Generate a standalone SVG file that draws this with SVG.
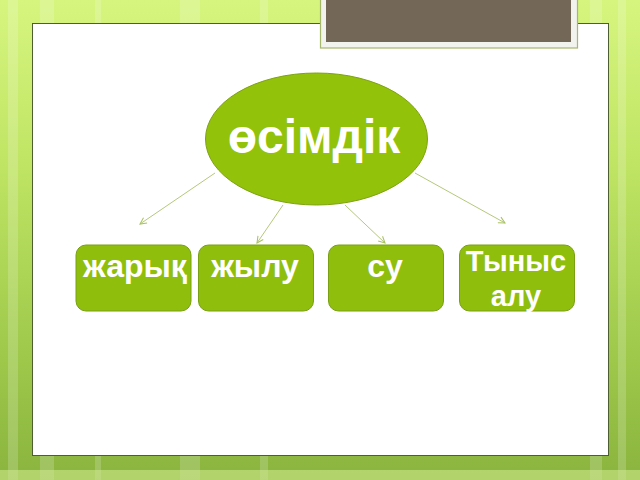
<svg xmlns="http://www.w3.org/2000/svg" width="640" height="480" viewBox="0 0 640 480">
  <defs>
    <linearGradient id="bg" x1="0" y1="0" x2="0" y2="1">
      <stop offset="0" stop-color="#d6f57e"/>
      <stop offset="0.35" stop-color="#bfe463"/>
      <stop offset="0.75" stop-color="#9dc84a"/>
      <stop offset="1" stop-color="#8ab43e"/>
    </linearGradient>
    <marker id="arr" viewBox="0 0 10 10" refX="9" refY="5" markerWidth="8" markerHeight="8" orient="auto" markerUnits="userSpaceOnUse">
      <path d="M1,1 L9,5 L1,9" fill="none" stroke="#a9c262" stroke-width="1.3"/>
    </marker>
    <style>
      .box { fill:#8fbe0c; stroke:#78a012; stroke-width:1; }
      .lbl { font-family:"Liberation Sans", Arial, sans-serif; font-weight:bold; fill:#ffffff; text-anchor:middle; }
      .con { stroke:#b4c97a; stroke-width:1; fill:none; marker-end:url(#arr); }
    </style>
  </defs>

  <!-- background -->
  <rect x="0" y="0" width="640" height="480" fill="url(#bg)"/>
  <g opacity="0.18" fill="#ffffff">
    <rect x="8" y="0" width="10" height="480"/>
    <rect x="40" y="0" width="14" height="480"/>
    <rect x="95" y="0" width="6" height="480"/>
    <rect x="180" y="0" width="20" height="480"/>
    <rect x="260" y="0" width="8" height="480"/>
    <rect x="590" y="0" width="12" height="480"/>
    <rect x="618" y="0" width="8" height="480"/>
  </g>
  <rect x="0" y="470" width="640" height="10" fill="#cde88a" opacity="0.6"/>

  <!-- white panel -->
  <rect x="32.5" y="23.5" width="576" height="432" fill="#ffffff" stroke="#4d5f32" stroke-width="1"/>

  <!-- title placeholder box -->
  <g id="titlebox">
    <rect x="320.5" y="-2" width="257" height="50" fill="#f2f2ef" stroke="#a6b86c" stroke-width="1.2"/>
    <rect x="326" y="-2" width="245" height="44" fill="#736857"/>
  </g>

  <!-- connectors -->
  <g id="connectors">
    <line class="con" x1="215" y1="173" x2="140" y2="224"/>
    <line class="con" x1="283" y1="205" x2="257" y2="243"/>
    <line class="con" x1="345" y1="205" x2="385" y2="243"/>
    <line class="con" x1="415" y1="173" x2="505" y2="223"/>
  </g>

  <!-- center node -->
  <g id="node-osimdik">
    <ellipse cx="316.5" cy="139" rx="111" ry="66" fill="#93c20a" stroke="#7ea312" stroke-width="1"/>
    <text class="lbl" x="314" y="153" font-size="48">өсімдік</text>
  </g>

  <g id="node-zharyk">
    <rect class="box" x="76" y="245" width="115" height="66" rx="10"/>
    <text class="lbl" x="135" y="277" font-size="32">жарық</text>
  </g>
  <g id="node-zhylu">
    <rect class="box" x="198.5" y="245" width="115" height="66" rx="10"/>
    <text class="lbl" x="255" y="277" font-size="32">жылу</text>
  </g>
  <g id="node-su">
    <rect class="box" x="328.5" y="245" width="115" height="66" rx="10"/>
    <text class="lbl" x="385" y="277" font-size="32">су</text>
  </g>
  <g id="node-tynys">
    <rect class="box" x="459.5" y="245" width="115" height="66" rx="10"/>
    <text class="lbl" x="516" y="271" font-size="29">Тыныс</text>
    <text class="lbl" x="516" y="306" font-size="29">алу</text>
  </g>
</svg>
